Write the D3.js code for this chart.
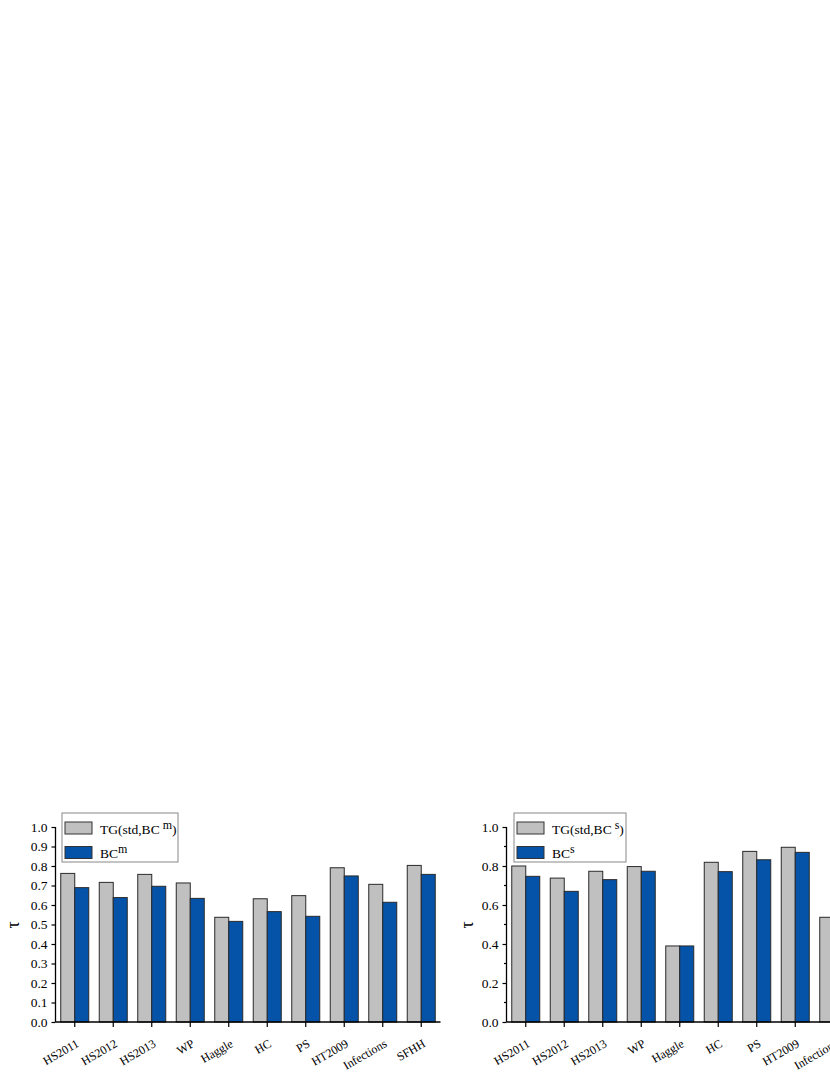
<!DOCTYPE html>
<html>
<head>
<meta charset="utf-8">
<script src="https://cdn.jsdelivr.net/npm/d3@7"></script>
<style>
  body { margin: 0; background: #fff; }
  svg { display: block; }
  text { font-family: 'Liberation Serif', 'Times New Roman', serif; fill: #000; }
</style>
</head>
<body>
<svg id="chart" width="830" height="1075"></svg>
<script>
const datasets = ['HS2011', 'HS2012', 'HS2013', 'WP', 'Haggle', 'HC', 'PS', 'HT2009', 'Infections', 'SFHH']

// left panel (BC^m)
const tgStdBCm = [0.762, 0.716, 0.757, 0.713, 0.537, 0.632, 0.648, 0.791, 0.706, 0.803]
const bcm = [0.689, 0.638, 0.696, 0.634, 0.516, 0.566, 0.542, 0.749, 0.614, 0.757]

// right panel (BC^s), last two are cut off in the picture
const tgStdBCs = [0.800, 0.738, 0.773, 0.797, 0.390, 0.819, 0.875, 0.896, 0.537, 0.850]
const bcs = [0.747, 0.670, 0.730, 0.773, 0.390, 0.771, 0.832, 0.870, 0.470, 0.800]

const leftTicks = [0, 0.1, 0.2, 0.3, 0.4, 0.5, 0.6, 0.7, 0.8, 0.9, 1.0]
const rightTicks = [0, 0.2, 0.4, 0.6, 0.8, 1.0]
const rightMinor = [0.1, 0.3, 0.5, 0.7, 0.9]

const GRAY = '#c0c0c0'
const BLUE = '#0453a8'

const svg = d3.select('#chart')

/**
 * Draws one grouped bar panel.
 *
 * @param {object} p Panel settings
 */
function drawPanel (p) {
  const g = svg.append('g')
  const x = d3.scaleBand().domain(datasets).range([p.x0, p.x0 + 385]).paddingInner(0).paddingOuter(0)
  const xSub = d3.scaleBand().domain(['tg', 'bc']).range([0, x.bandwidth()]).paddingInner(0).paddingOuter(0.375)
  const y = d3.scaleLinear().domain([0, 1]).range([1022, 827])

  const rows = datasets.map((d, i) => ({ name: d, vals: [{ k: 'tg', v: p.tg[i] }, { k: 'bc', v: p.bc[i] }] }))

  const groups = g.selectAll('.grp')
    .data(rows)
    .enter()
    .append('g')
    .attr('class', 'grp')
    .attr('transform', d => 'translate(' + x(d.name) + ',0)')

  groups.selectAll('rect')
    .data(d => d.vals)
    .enter()
    .append('rect')
    .attr('x', d => xSub(d.k))
    .attr('y', d => y(d.v))
    .attr('width', xSub.bandwidth())
    .attr('height', d => y(0) - y(d.v))
    .attr('fill', d => d.k === 'tg' ? GRAY : BLUE)
    .attr('stroke', '#2a2a2a')
    .attr('stroke-width', 1)

  // y axis
  const yAxis = d3.axisLeft(y).tickValues(p.ticks).tickSize(4).tickPadding(4).tickFormat(d3.format('.1f'))
  const ya = g.append('g').attr('transform', 'translate(' + p.x0 + ',0)').call(yAxis)
  ya.select('.domain').attr('stroke', '#000').attr('stroke-width', 1.3).attr('d', 'M0,1022V827')
  ya.selectAll('.tick line').attr('stroke', '#000').attr('stroke-width', 1.2)
  ya.selectAll('.tick text').style('font-size', '13.5px')
  if (p.minor) {
    g.append('g').selectAll('line')
      .data(p.minor)
      .enter()
      .append('line')
      .attr('x1', p.x0 - 2.5).attr('x2', p.x0)
      .attr('y1', d => y(d)).attr('y2', d => y(d))
      .attr('stroke', '#000').attr('stroke-width', 1.2)
  }

  // x axis
  const xAxis = d3.axisBottom(x).tickSize(5).tickFormat('')
  const xa = g.append('g').attr('transform', 'translate(0,1022)').call(xAxis)
  xa.select('.domain').attr('stroke', '#000').attr('stroke-width', 1.3).attr('d', 'M' + p.x0 + ',0H' + (p.x0 + 385))
  xa.selectAll('.tick line').attr('stroke', '#000').attr('stroke-width', 1.2)

  g.append('g').selectAll('text')
    .data(datasets)
    .enter()
    .append('text')
    .attr('text-anchor', 'end')
    .attr('transform', d => 'translate(' + (x(d) + x.bandwidth() / 2 + 5) + ',1046) rotate(-30)')
    .style('font-size', '12px')
    .text(d => d)

  // axis title
  g.append('text')
    .attr('transform', 'translate(' + p.tauX + ',925) rotate(-90)')
    .attr('text-anchor', 'middle')
    .style('font-size', '18px')
    .text('τ')

  // legend
  const lg = g.append('g')
  lg.append('rect')
    .attr('x', p.lx).attr('y', 813).attr('width', p.lw).attr('height', 49)
    .attr('fill', '#fff').attr('stroke', '#888').attr('stroke-width', 1)
  const items = [{ c: GRAY, base: 'TG(std,BC', sup: p.sup, close: ')' }, { c: BLUE, base: 'BC', sup: p.sup, close: '' }]
  items.forEach((it, i) => {
    const yy = 822 + i * 24.5
    lg.append('rect')
      .attr('x', p.lx + 3).attr('y', yy).attr('width', 27).attr('height', 12)
      .attr('fill', it.c).attr('stroke', '#333').attr('stroke-width', 1)
    const t = lg.append('text')
      .attr('x', p.lx + 38).attr('y', yy + 11.5)
      .style('font-size', '13.5px')
    t.append('tspan').text(it.base)
    t.append('tspan').attr('dx', i === 0 ? 3 : 0).attr('dy', -5).style('font-size', '12px').text(it.sup)
    if (it.close) t.append('tspan').attr('dy', 5).text(it.close)
  })
}

drawPanel({ x0: 55.5, tg: tgStdBCm, bc: bcm, ticks: leftTicks, minor: null, tauX: 19, lx: 62, lw: 116, sup: 'm' })
drawPanel({ x0: 506.5, tg: tgStdBCs, bc: bcs, ticks: rightTicks, minor: rightMinor, tauX: 473, lx: 514, lw: 112, sup: 's' })
</script>
</body>
</html>
